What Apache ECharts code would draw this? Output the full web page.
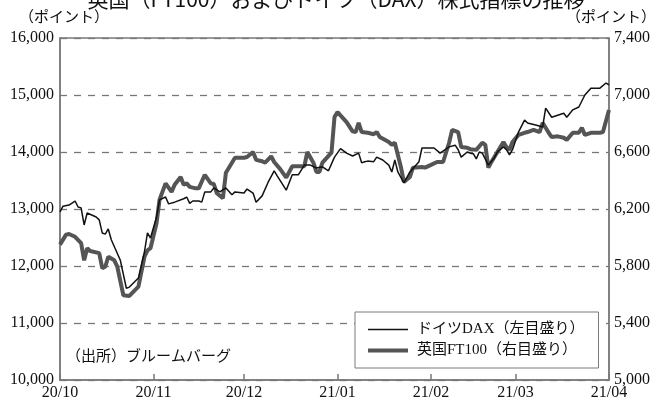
<!DOCTYPE html>
<html>
<head>
<meta charset="utf-8">
<script src="https://cdn.jsdelivr.net/npm/echarts@6/dist/echarts.min.js"></script>
<style>
  html, body { margin: 0; padding: 0; background: #fff; }
  #chart { width: 658px; height: 406px; }
</style>
</head>
<body>
<div id="chart"></div>
<script>
// ドイツDAX (left scale)
const daxDates = [
  '2020-10-01','2020-10-02','2020-10-04','2020-10-06','2020-10-07','2020-10-08','2020-10-09','2020-10-10',
  '2020-10-13','2020-10-14','2020-10-15','2020-10-16','2020-10-17','2020-10-18','2020-10-21','2020-10-23',
  '2020-10-24','2020-10-27','2020-10-29','2020-10-30','2020-10-31','2020-11-02','2020-11-03','2020-11-05',
  '2020-11-06','2020-11-08','2020-11-11','2020-11-12','2020-11-13','2020-11-14','2020-11-16','2020-11-17',
  '2020-11-18','2020-11-20','2020-11-21','2020-11-23','2020-11-25','2020-11-27','2020-11-28','2020-12-01',
  '2020-12-02','2020-12-04','2020-12-05','2020-12-07','2020-12-09','2020-12-11','2020-12-12','2020-12-15',
  '2020-12-17','2020-12-19','2020-12-21','2020-12-23','2020-12-25','2020-12-27','2020-12-29','2020-12-31',
  '2021-01-02','2021-01-04','2021-01-06','2021-01-08','2021-01-09','2021-01-10','2021-01-11','2021-01-13',
  '2021-01-14','2021-01-16','2021-01-18','2021-01-19','2021-01-20','2021-01-21','2021-01-23','2021-01-25',
  '2021-01-28','2021-01-29','2021-02-02','2021-02-04','2021-02-07','2021-02-09','2021-02-10','2021-02-11',
  '2021-02-13','2021-02-14','2021-02-15','2021-02-16','2021-02-17','2021-02-18','2021-02-20','2021-02-22',
  '2021-02-23','2021-02-25','2021-02-26','2021-02-27','2021-02-28','2021-03-02','2021-03-04','2021-03-05',
  '2021-03-08','2021-03-10','2021-03-11','2021-03-13','2021-03-17','2021-03-18','2021-03-20','2021-03-22',
  '2021-03-24','2021-03-26','2021-03-29','2021-03-31','2021-04-01'
];
const daxValues = [
  12950, 13050, 13070, 13140, 13035, 13020, 12720, 12930,
  12860, 12810, 12580, 12560, 12650, 12460, 12100, 11610,
  11630, 11790, 12250, 12580, 12490, 12860, 13160, 13210,
  13090, 13120, 13180, 13210, 13100, 13140, 13140, 13120,
  13300, 13300, 13370, 13300, 13370, 13250, 13300, 13280,
  13350, 13280, 13120, 13230, 13470, 13670, 13580, 13330,
  13600, 13600, 13770, 13770, 13720, 13740, 13670, 13910,
  14060, 13980, 13930, 13980, 13810, 13830, 13840, 13830,
  13910, 13860, 13770, 13650, 13860, 13650, 13460, 13650,
  13830, 14070, 14070, 13980, 14090, 14120, 14040, 13910,
  14000, 13980, 13970, 13880, 14000, 13980, 13770, 13900,
  14000, 14090, 14040, 13950, 14040, 14350, 14560, 14510,
  14470, 14440, 14770, 14610, 14680, 14610, 14740, 14790,
  15000, 15120, 15120, 15210, 15180
];

// 英国FT100 (right scale)
const ftDates = [
  '2020-10-01','2020-10-03','2020-10-04','2020-10-06','2020-10-08','2020-10-09','2020-10-10','2020-10-11',
  '2020-10-14','2020-10-15','2020-10-16','2020-10-17','2020-10-19','2020-10-20','2020-10-22','2020-10-24',
  '2020-10-27','2020-10-29','2020-10-30','2020-10-31','2020-11-02','2020-11-03','2020-11-05','2020-11-07',
  '2020-11-08','2020-11-10','2020-11-11','2020-11-12','2020-11-13','2020-11-15','2020-11-16','2020-11-18',
  '2020-11-20','2020-11-21','2020-11-22','2020-11-24','2020-11-25','2020-11-27','2020-11-28','2020-12-01',
  '2020-12-02','2020-12-04','2020-12-05','2020-12-07','2020-12-08','2020-12-10','2020-12-11','2020-12-13',
  '2020-12-15','2020-12-17','2020-12-19','2020-12-21','2020-12-22','2020-12-24','2020-12-25','2020-12-26',
  '2020-12-27','2020-12-30','2020-12-31','2021-01-01','2021-01-04','2021-01-06','2021-01-07','2021-01-08',
  '2021-01-09','2021-01-11','2021-01-13','2021-01-14','2021-01-15','2021-01-18','2021-01-19','2021-01-20',
  '2021-01-22','2021-01-23','2021-01-25','2021-01-26','2021-01-29','2021-01-30','2021-02-01','2021-02-03',
  '2021-02-05','2021-02-07','2021-02-08','2021-02-10','2021-02-11','2021-02-13','2021-02-14','2021-02-16',
  '2021-02-18','2021-02-19','2021-02-20','2021-02-21','2021-02-23','2021-02-25','2021-02-26','2021-02-27',
  '2021-02-28','2021-03-02','2021-03-04','2021-03-05','2021-03-07','2021-03-09','2021-03-10','2021-03-12',
  '2021-03-13','2021-03-15','2021-03-17','2021-03-18','2021-03-20','2021-03-22','2021-03-23','2021-03-24',
  '2021-03-26','2021-03-29','2021-03-30','2021-04-01'
];
const ftValues = [
  5950, 6020, 6025, 6005, 5960, 5840, 5925, 5905,
  5890, 5785, 5795, 5865, 5840, 5795, 5595, 5590,
  5655, 5865, 5910, 5925, 6100, 6265, 6380, 6320,
  6370, 6425, 6370, 6380, 6355, 6345, 6345, 6440,
  6380, 6375, 6310, 6275, 6455, 6525, 6560, 6560,
  6565, 6600, 6545, 6535, 6525, 6570, 6530, 6480,
  6420, 6500, 6500, 6500, 6600, 6525, 6460, 6460,
  6525, 6595, 6845, 6880, 6810, 6745, 6740, 6805,
  6740, 6735, 6725, 6740, 6705, 6670, 6650, 6665,
  6495, 6390, 6425, 6490, 6495, 6490, 6510, 6530,
  6530, 6665, 6755, 6740, 6635, 6630, 6620, 6615,
  6665, 6650, 6490, 6530, 6600, 6670, 6635, 6615,
  6670, 6720, 6735, 6740, 6755, 6740, 6805, 6735,
  6705, 6710, 6700, 6685, 6735, 6735, 6770, 6720,
  6735, 6735, 6740, 6895
];

const monthLabels = ['20/10', '20/11', '20/12', '21/01', '21/02', '21/03', '21/04'];
const leftScale = [10000, 16000, 1000];
const rightScale = [5000, 7400, 400];

const SERIF = "'Liberation Serif', 'Noto Sans CJK JP', serif";
const GOTHIC = "'Noto Sans CJK JP', sans-serif";
const AXIS_GREY = '#7a7a7a';

const fmt = v => v.toLocaleString('en-US');

const chart = echarts.init(document.getElementById('chart'));
chart.setOption({
  backgroundColor: '#fff',
  animation: false,
  grid: {
    left: 60, right: 49, top: 38, bottom: 26,
    outerBoundsMode: 'none',
    show: true, borderColor: AXIS_GREY, borderWidth: 1.5
  },
  graphic: [
    {
      type: 'text', x: 336, y: -11,
      style: { text: '英国（FT100）およびドイツ（DAX）株式指標の推移', fontSize: 21, fontFamily: GOTHIC, fill: '#111', align: 'center' }
    },
    {
      type: 'text', left: 19, top: 11,
      style: { text: '（ポイント）', fontSize: 15, fontFamily: SERIF, fill: '#111' }
    },
    {
      type: 'text', right: 2, top: 11,
      style: { text: '（ポイント）', fontSize: 15, fontFamily: SERIF, fill: '#111' }
    },
    {
      type: 'text', left: 66, top: 350,
      style: { text: '（出所）ブルームバーグ', fontSize: 15, fontFamily: SERIF, fill: '#111' }
    }
  ],
  legend: {
    orient: 'vertical',
    left: 355, top: 312,
    padding: [10, 14, 10, 11],
    itemGap: 6,
    itemWidth: 40,
    itemHeight: 10,
    backgroundColor: '#fff',
    borderColor: AXIS_GREY,
    borderWidth: 1,
    itemStyle: { opacity: 0 },
    data: [
      { name: 'ドイツDAX（左目盛り）', lineStyle: { width: 1.5 } },
      { name: '英国FT100（右目盛り）', lineStyle: { width: 4 } }
    ],
    textStyle: { fontSize: 15, fontFamily: SERIF, color: '#111', padding: [0, 0, 0, 4] }
  },
  xAxis: {
    type: 'time',
    min: '2020-10-01',
    max: '2021-04-01',
    minInterval: 28 * 86400000,
    maxInterval: 31 * 86400000,
    axisLine: { lineStyle: { color: AXIS_GREY, width: 1.5 } },
    axisTick: { inside: true, length: 6, lineStyle: { color: AXIS_GREY, width: 1.5 } },
    splitLine: { show: false },
    axisLabel: {
      margin: 5,
      fontSize: 16,
      fontFamily: SERIF,
      color: '#111',
      showMinLabel: true,
      showMaxLabel: true,
      formatter: v => {
        const d = new Date(v);
        const idx = (d.getFullYear() - 2020) * 12 + d.getMonth() - 9;
        return monthLabels[idx] || '';
      }
    }
  },
  yAxis: [
    {
      type: 'value',
      min: leftScale[0], max: leftScale[1], interval: leftScale[2],
      axisLine: { show: true, lineStyle: { color: AXIS_GREY, width: 1.5 } },
      axisTick: { show: false },
      splitLine: { show: true, lineStyle: { color: '#777', width: 1.3, type: [7, 7] } },
      axisLabel: { margin: 6, fontSize: 16, fontFamily: SERIF, color: '#111', formatter: fmt }
    },
    {
      type: 'value',
      position: 'right',
      min: rightScale[0], max: rightScale[1], interval: rightScale[2],
      axisLine: { show: true, lineStyle: { color: AXIS_GREY, width: 1.5 } },
      axisTick: { show: false },
      splitLine: { show: false },
      axisLabel: { margin: 5, fontSize: 16, fontFamily: SERIF, color: '#111', formatter: fmt }
    }
  ],
  series: [
    {
      name: '英国FT100（右目盛り）',
      type: 'line',
      yAxisIndex: 1,
      symbol: 'none',
      z: 2,
      lineStyle: { color: '#555', width: 4 },
      itemStyle: { color: '#555' },
      data: ftDates.map((d, i) => [d, ftValues[i]])
    },
    {
      name: 'ドイツDAX（左目盛り）',
      type: 'line',
      yAxisIndex: 0,
      symbol: 'none',
      z: 3,
      lineStyle: { color: '#111', width: 1.5 },
      itemStyle: { color: '#111' },
      data: daxDates.map((d, i) => [d, daxValues[i]])
    }
  ]
});
</script>
</body>
</html>
